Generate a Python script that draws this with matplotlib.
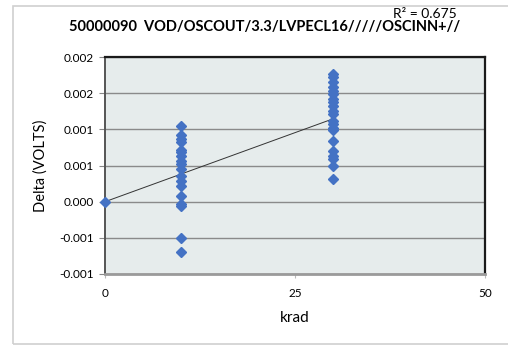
import matplotlib.pyplot as plt
import numpy as np

# dose points (krad) and the measured delta at each
dose_0 = [0]
delta_0 = [0.0]

dose_10 = [10] * 18
delta_10 = [0.001046, 0.000917, 0.000861, 0.000829, 0.000713, 0.00068,
            0.000629, 0.00056, 0.000514, 0.000454, 0.000351, 0.000292,
            0.000222, 0.000083, -0.000028, -0.000065, -0.0005, -0.000699]

dose_30 = [30] * 21
delta_30 = [0.001764, 0.001718, 0.001649, 0.001579, 0.001524, 0.001486,
            0.001417, 0.001379, 0.001324, 0.001254, 0.001208, 0.001115,
            0.001069, 0.001014, 0.00099, 0.000838, 0.000699, 0.000629,
            0.000583, 0.00049, 0.000319]

y_ticks = [-0.001, -0.0005, 0.0, 0.0005, 0.001, 0.0015, 0.002]
x_ticks = [0, 25, 50]

title = "50000090  VOD/OSCOUT/3.3/LVPECL16/////OSCINN+//"
r2_text = "R² = 0.675"

plt.rcParams['font.family'] = ['Lato', 'DejaVu Sans']

x = np.array(dose_0 + dose_10 + dose_30, dtype=float)
y = np.array(delta_0 + delta_10 + delta_30)

fig = plt.figure(figsize=(5.08, 3.45), dpi=100)
W, H = 508, 345

# outer chart frame
frame = plt.Rectangle((13 / W, 1 / H), 1.2, (341 - 3) / H,
                      transform=fig.transFigure, fill=False,
                      edgecolor='#d0d0d0', linewidth=1.2)
fig.patches.append(frame)

ax = fig.add_axes([105 / W, 1 - 274 / H, (485 - 105) / W, (274 - 57) / H])
ax.set_facecolor('#e6ecec')

ax.set_xlim(0, 50)
ax.set_ylim(-0.001, 0.002)
ax.set_yticks(y_ticks)
ax.set_yticklabels([f"{v:.3f}" for v in y_ticks])
ax.set_xticks(x_ticks)
ax.set_xticklabels([str(v) for v in x_ticks])
ax.yaxis.grid(True, color='#8a8a8a', linewidth=1)
ax.set_axisbelow(True)

ax.tick_params(axis='y', length=4, width=0.8, color='#888888', labelsize=8.5, pad=4)
ax.tick_params(axis='x', length=3, width=0.8, color='#bbbbbb', labelsize=8.5, pad=7)

ax.spines['top'].set_color('#1a1a1a')
ax.spines['top'].set_linewidth(1.6)
ax.spines['right'].set_color('#1a1a1a')
ax.spines['right'].set_linewidth(1.6)
ax.spines['left'].set_color('#555555')
ax.spines['left'].set_linewidth(1.4)
ax.spines['bottom'].set_color('#9a9a9a')
ax.spines['bottom'].set_linewidth(2)

# linear trendline over the measured range
slope, icept = np.polyfit(x, y, 1)
xt = np.array([0, 30])
ax.plot(xt, slope * xt + icept, color='#333333', linewidth=0.7, zorder=2)

ax.plot(x, y, linestyle='none', marker='D', markersize=5,
        color='#4472c4', zorder=3, clip_on=False)

ax.set_xlabel("krad", fontsize=11, labelpad=9)
ax.set_ylabel("Delta (VOLTS)", fontsize=10.5, labelpad=8)

fig.text(265 / W, 1 - 27 / H, title, ha='center', va='center',
         fontsize=10.5, fontweight='bold')
fig.text(425 / W, 1 - 14 / H, r2_text, ha='center', va='center', fontsize=10)

fig.savefig("out.png", dpi=100)
